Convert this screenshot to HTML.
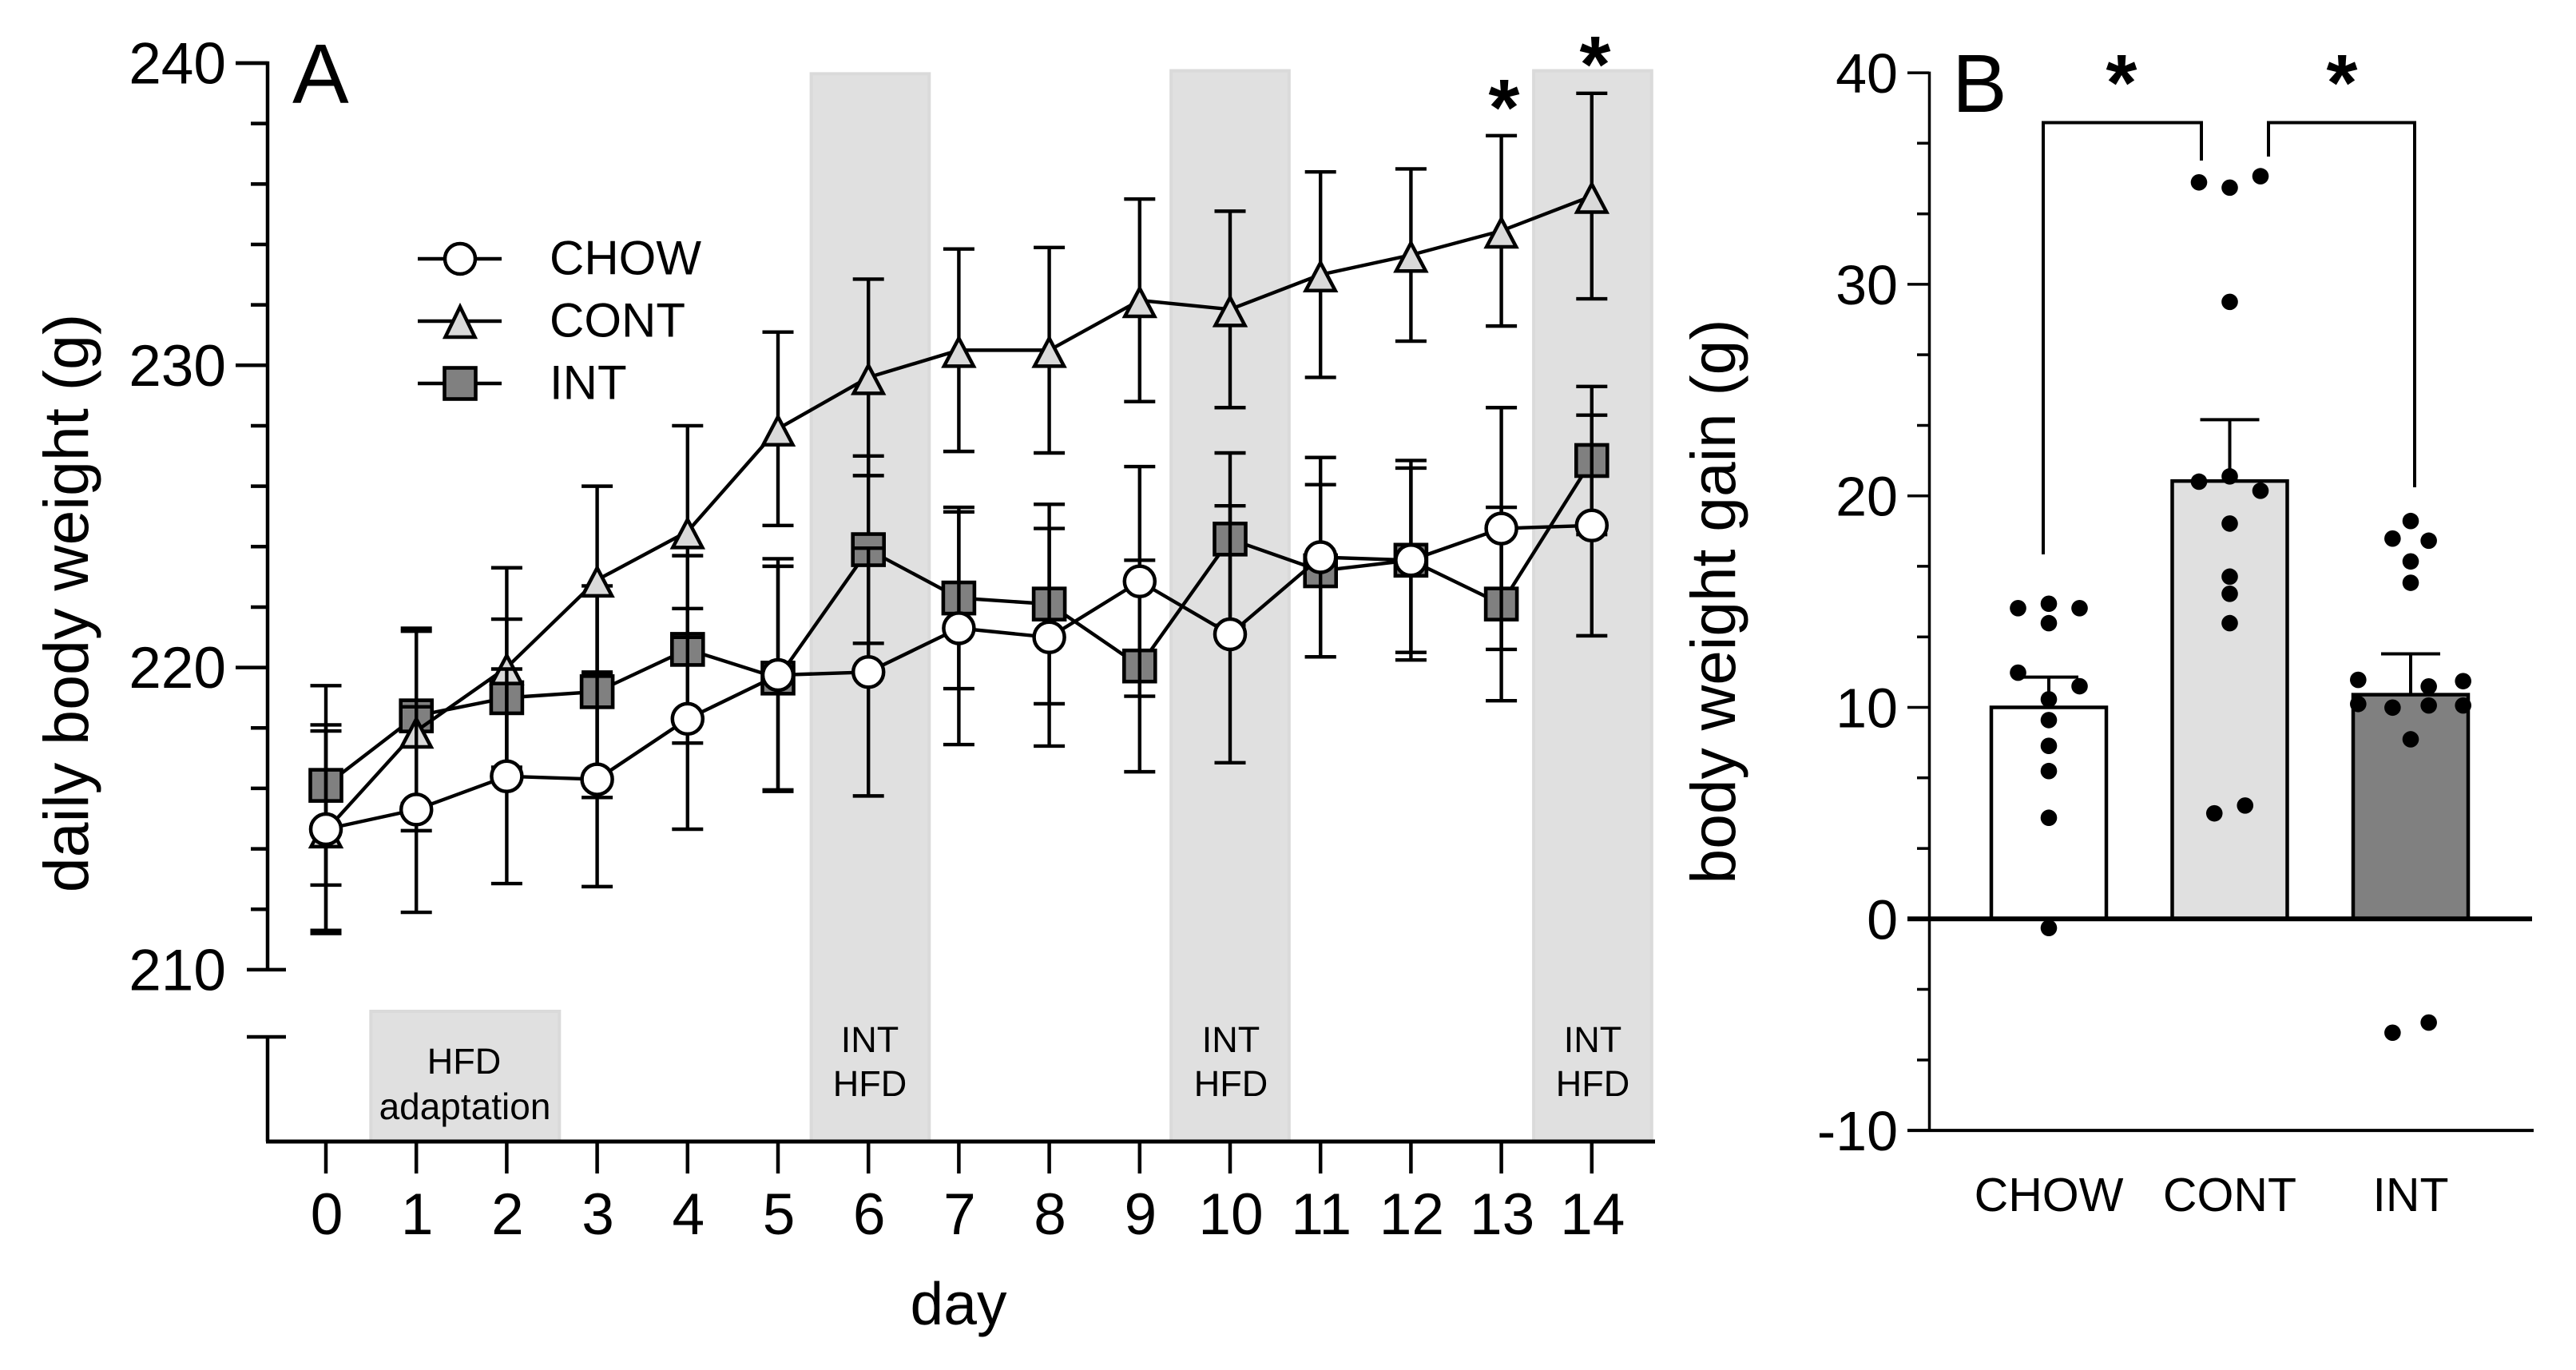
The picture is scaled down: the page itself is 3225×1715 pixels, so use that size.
<!DOCTYPE html>
<html lang="en">
<head>
<meta charset="utf-8">
<title>Daily body weight and body weight gain</title>
<style>
html,body{margin:0;padding:0;background:#fff;}
svg{display:block;}
text{font-family:"Liberation Sans",Arial,sans-serif;fill:#000;}
</style>
</head>
<body>
<svg id="fig" xmlns="http://www.w3.org/2000/svg" width="3225" height="1715" viewBox="0 0 3225 1715">
  <rect x="0" y="0" width="3225" height="1715" fill="#fff"/>
  <g id="a-bands"></g>
  <g id="a-series"></g>
  <g id="a-axes"></g>
  <g id="a-legend"></g>
  <g>
    <text x="366" y="129" font-size="106">A</text>
    <text transform="translate(110,755) rotate(-90)" text-anchor="middle" font-size="79">daily body weight (g)</text>
    <text x="1200" y="1658" text-anchor="middle" font-size="75">day</text>
    <text x="1883" y="169" text-anchor="middle" font-size="100" font-weight="bold">*</text>
    <text x="1997" y="115" text-anchor="middle" font-size="100" font-weight="bold">*</text>
    <text x="581" y="1344" text-anchor="middle" font-size="45">HFD</text>
    <text x="582" y="1401" text-anchor="middle" font-size="46">adaptation</text>
    <text x="1089" y="1317" text-anchor="middle" font-size="45">INT</text>
    <text x="1089" y="1372" text-anchor="middle" font-size="45">HFD</text>
    <text x="1541" y="1317" text-anchor="middle" font-size="45">INT</text>
    <text x="1541" y="1372" text-anchor="middle" font-size="45">HFD</text>
    <text x="1994" y="1317" text-anchor="middle" font-size="45">INT</text>
    <text x="1994" y="1372" text-anchor="middle" font-size="45">HFD</text>
  </g>
  <g id="b-bars"></g>
  <g id="b-axes"></g>
  <g id="b-dots"></g>
  <g>
    <text x="2444" y="140" font-size="103">B</text>
    <text transform="translate(2172,753) rotate(-90)" text-anchor="middle" font-size="78.5">body weight gain (g)</text>
    <polyline points="2558,694 2558,153.5 2756,153.5 2756,201" fill="none" stroke="#000" stroke-width="4"/>
    <polyline points="2840,196 2840,153.5 3023,153.5 3023,610" fill="none" stroke="#000" stroke-width="4"/>
    <text x="2668" y="138" text-anchor="middle" font-size="100" font-weight="bold" dx="-12">*</text>
    <text x="2944" y="138" text-anchor="middle" font-size="100" font-weight="bold" dx="-12">*</text>
  </g>
</svg>
<script>
// ---------- Panel A data ----------
const days = [0,1,2,3,4,5,6,7,8,9,10,11,12,13,14];
const chowMean = [214.65,215.3,216.4,216.3,218.3,219.75,219.85,221.3,221.0,222.85,221.1,223.65,223.55,224.6,224.7];
const chowErr  = [3.45,3.4,3.55,3.55,3.65,3.85,4.1,3.85,3.6,3.8,4.25,3.3,3.05,4.0,3.65];
const contMean = [214.6,217.9,220.0,222.9,224.5,227.9,229.6,230.5,230.5,232.15,231.85,233.0,233.65,234.45,235.6];
const contErr  = [3.3,3.3,3.3,3.1,3.5,3.2,3.25,3.35,3.4,3.35,3.25,3.4,2.85,3.15,3.4];
const intMean  = [216.1,218.4,219.0,219.2,220.6,219.65,223.9,222.3,222.1,220.05,224.25,223.2,223.55,222.1,226.85];
const intErr   = [3.3,2.9,2.6,3.5,3.1,3.7,3.1,3.0,3.3,3.5,2.85,2.85,3.3,3.2,2.45];
const aMajorTicks = [210,220,230,240];
const aMinorTicks = [212,214,216,218,222,224,226,228,232,234,236,238];
const legendNames = ['CHOW','CONT','INT'];
const upperBandStart = [5.35,9.33,13.34];
const upperBandEnd   = [6.69,10.67,14.68];
const upperBandTop   = [239.7,239.8,239.8];
const adaptBandStart = [0.48];
const adaptBandEnd   = [2.6];

// ---------- Panel B data ----------
const groups = ['CHOW','CONT','INT'];
const gainMean = [10.0,20.7,10.6];
const gainErr  = [1.43,2.9,1.93];
const chowGain = [14.69,14.9,14.69,13.98,11.64,11.0,10.38,9.4,8.18,6.99,4.78,-0.43];
const chowSlot = [-0.17,0,0.17,0,-0.17,0.17,0,0,0,0,0,0];
const contGain = [34.82,34.57,35.11,29.17,20.67,20.92,20.24,18.69,16.18,15.37,13.98,4.99,5.36];
const contSlot = [-0.17,0,0.17,0,-0.17,0,0.17,0,0,0,0,-0.085,0.085];
const intGain  = [18.81,17.98,17.88,16.9,15.89,11.3,11.24,10.99,10.16,9.99,10.09,10.09,8.49,-5.38,-4.9];
const intSlot  = [0,-0.1,0.1,0,0,-0.29,0.29,0.1,-0.29,-0.1,0.1,0.29,0,-0.1,0.1];
const bMajorTicks = [-10,0,10,20,30,40];
const bMinorTicks = [-6.67,-3.33,3.33,6.67,13.33,16.67,23.33,26.67,33.33,36.67];

// ---------- Axis functions ----------
function xA(d){ return 408 + 113.2 * d; }
function yA(v){ return 79 + (240 - v) * 37.83; }
function xB(i){ return 2565 + 226.5 * i; }
function yB(v){ return 1150.3 - 26.48 * v; }

const NS = 'http://www.w3.org/2000/svg';
function mk(parent, tag, attrs, content){
  const e = document.createElementNS(NS, tag);
  for (const k in attrs) e.setAttribute(k, attrs[k]);
  if (content !== undefined) e.textContent = content;
  parent.appendChild(e);
  return e;
}
const INK = '#000';
const aBands = document.getElementById('a-bands');
const aSeries = document.getElementById('a-series');
const aAxes = document.getElementById('a-axes');
const aLegend = document.getElementById('a-legend');
const bBars = document.getElementById('b-bars');
const bAxes = document.getElementById('b-axes');
const bDots = document.getElementById('b-dots');
const AXIS_BOTTOM = 1429;

// Markers
function drawMarker(parent, kind, cx, cy, inLegend){
  let m;
  if (kind === 'CHOW') {
    m = mk(parent, 'circle', {cx: cx, cy: cy, r: 19, fill: '#fff', stroke: INK, 'stroke-width': 4.5});
  } else if (kind === 'CONT') {
    const apex = inLegend ? 18 : 15;
    const pts = [[cx, cy - apex], [cx + 18.5, cy + 20], [cx - 18.5, cy + 20]].map(p => p.join(',')).join(' ');
    m = mk(parent, 'polygon', {points: pts, fill: '#d9d9d9', stroke: INK, 'stroke-width': 4.5});
  } else {
    m = mk(parent, 'rect', {x: cx - 19.5, y: cy - 19.5, width: 39, height: 39, fill: '#808080', stroke: INK, 'stroke-width': 4.6});
  }
  
  
  return m;
}

// Bands
upperBandStart.forEach((s, i) => {
  const x0 = xA(s), x1 = xA(upperBandEnd[i]), y0 = yA(upperBandTop[i]);
  const b = mk(aBands, 'rect', {x: x0 + 2, y: y0 + 2, width: x1 - x0 - 4, height: AXIS_BOTTOM - y0 - 2, fill: '#e0e0e0', stroke: '#dadada', 'stroke-width': 4});
  
  
});
adaptBandStart.forEach((s, i) => {
  const x0 = xA(s), x1 = xA(adaptBandEnd[i]);
  const b = mk(aBands, 'rect', {x: x0 + 2, y: 1266, width: x1 - x0 - 4, height: AXIS_BOTTOM - 1266, fill: '#e0e0e0', stroke: '#dadada', 'stroke-width': 4});
  
  
});

// Series: INT below CONT below CHOW
function drawSeries(name, means, errs){
  const g = mk(aSeries, 'g', {});
  
  
  means.forEach((v, i) => {
    const x = xA(days[i]), hi = yA(v + errs[i]), lo = yA(v - errs[i]);
    const eb = mk(g, 'path', {d: 'M' + x + ' ' + hi + 'V' + lo + 'M' + (x - 19.5) + ' ' + hi + 'H' + (x + 19.5) + 'M' + (x - 19.5) + ' ' + lo + 'H' + (x + 19.5), fill: 'none', stroke: INK, 'stroke-width': 4.4});
    
    
  });
  const line = mk(g, 'polyline', {points: means.map((v, i) => xA(days[i]) + ',' + yA(v)).join(' '), fill: 'none', stroke: INK, 'stroke-width': 4.4});
  
  
  means.forEach((v, i) => { drawMarker(g, name, xA(days[i]), yA(v), false); });
}
drawSeries('INT', intMean, intErr);
drawSeries('CONT', contMean, contErr);
drawSeries('CHOW', chowMean, chowErr);

// Panel A axes
const aYUpper = mk(aAxes, 'path', {d: 'M295 ' + yA(240) + 'H335V' + yA(210), fill: 'none', stroke: INK, 'stroke-width': 4.5});


const aYLower = mk(aAxes, 'path', {d: 'M309 1298H358M335 1298V' + AXIS_BOTTOM, fill: 'none', stroke: INK, 'stroke-width': 4.5});


const aX = mk(aAxes, 'line', {x1: 333, x2: 2072, y1: AXIS_BOTTOM, y2: AXIS_BOTTOM, stroke: INK, 'stroke-width': 5});


aMajorTicks.forEach(v => {
  const y = yA(v);
  const x0 = v === 210 ? 309 : 295, x1 = v === 210 ? 358 : 335;
  const t = mk(aAxes, 'line', {x1: x0, x2: x1, y1: y, y2: y, stroke: INK, 'stroke-width': 4.5});
  
  
  const l = mk(aAxes, 'text', {x: 283, y: y + 25.5, 'text-anchor': 'end', 'font-size': 73}, String(v));
  
  
});
aMinorTicks.forEach(v => {
  const t = mk(aAxes, 'line', {x1: 314, x2: 335, y1: yA(v), y2: yA(v), stroke: INK, 'stroke-width': 4.5});
  
  
});
days.forEach(d => {
  const x = xA(d);
  const t = mk(aAxes, 'line', {x1: x, x2: x, y1: AXIS_BOTTOM, y2: 1469, stroke: INK, 'stroke-width': 4.5});
  
  
  const l = mk(aAxes, 'text', {x: x + 1, y: 1545, 'text-anchor': 'middle', 'font-size': 73}, String(d));
  
  
});

// Legend
legendNames.forEach((n, i) => {
  const g = mk(aLegend, 'g', {});
  
  
  const y = 324 + 78 * i;
  const ln = mk(g, 'line', {x1: 523, x2: 628, y1: y, y2: y, stroke: INK, 'stroke-width': 4.5});
  
  
  drawMarker(g, n, 576, y, true);
  const tx = mk(g, 'text', {x: 688, y: y + 19.5, 'font-size': 60}, n);
  
  
});

// Panel B bars
const barFills = ['#ffffff', '#e0e0e0', '#808080'];
groups.forEach((g, i) => {
  const x = xB(i), top = yB(gainMean[i]), cap = yB(gainMean[i] + gainErr[i]);
  const bar = mk(bBars, 'rect', {x: x - 72, y: top, width: 144, height: yB(0) - top, fill: barFills[i], stroke: INK, 'stroke-width': 4.5});
  
  
  const e = mk(bBars, 'path', {d: 'M' + x + ' ' + top + 'V' + cap + 'M' + (x - 37) + ' ' + cap + 'H' + (x + 37), fill: 'none', stroke: INK, 'stroke-width': 4});
  
  
  const l = mk(bAxes, 'text', {x: x, y: 1516, 'text-anchor': 'middle', 'font-size': 59}, g);
  
  
});

// Panel B axes
const bY = mk(bAxes, 'line', {x1: 2415.5, x2: 2415.5, y1: yB(40) - 1.5, y2: yB(-10), stroke: INK, 'stroke-width': 3.5});


const bX = mk(bAxes, 'line', {x1: 2388, x2: 3172, y1: yB(-10), y2: yB(-10), stroke: INK, 'stroke-width': 4});


const bZero = mk(bAxes, 'line', {x1: 2388, x2: 3170, y1: yB(0), y2: yB(0), stroke: INK, 'stroke-width': 6});


bMajorTicks.forEach(v => {
  const t = mk(bAxes, 'line', {x1: 2388, x2: 2415, y1: yB(v), y2: yB(v), stroke: INK, 'stroke-width': 3.5});
  
  
  const l = mk(bAxes, 'text', {x: 2376, y: yB(v) + 25, 'text-anchor': 'end', 'font-size': 70}, String(v));
  
  
});
bMinorTicks.forEach(v => {
  const t = mk(bAxes, 'line', {x1: 2400, x2: 2415, y1: yB(v), y2: yB(v), stroke: INK, 'stroke-width': 3.5});
  
  
});

// Panel B dots
function drawDots(idx, vals, slots, name){
  vals.forEach((v, i) => {
    const d = mk(bDots, 'circle', {cx: xB(idx + slots[i]), cy: yB(v), r: 10.3, fill: INK});
    
    
  });
}
drawDots(0, chowGain, chowSlot, 'chow');
drawDots(1, contGain, contSlot, 'cont');
drawDots(2, intGain, intSlot, 'int');
</script>
</body>
</html>
